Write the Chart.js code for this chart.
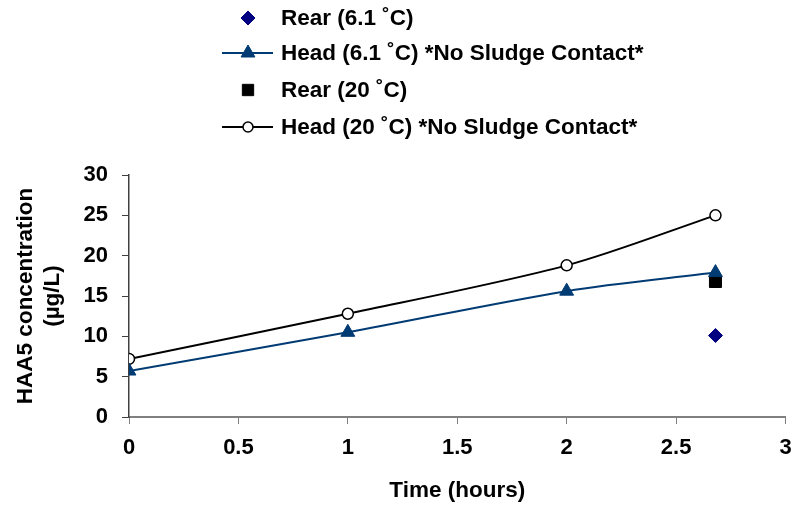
<!DOCTYPE html>
<html>
<head>
<meta charset="utf-8">
<script src="https://cdn.jsdelivr.net/npm/chart.js@4/dist/chart.umd.min.js"></script>
<style>
html,body{margin:0;padding:0;background:#fff;}
#wrap{position:relative;width:795px;height:508px;}
</style>
</head>
<body>
<div id="wrap"><canvas id="c" width="795" height="508"></canvas></div>
<script>
// ---- data ----
const seriesNames = [
  'Rear (6.1 \u02DAC)',
  'Head (6.1 \u02DAC) *No Sludge Contact*',
  'Rear (20 \u02DAC)',
  'Head (20 \u02DAC) *No Sludge Contact*'
];
const headTime = [0, 1, 2, 2.68];
const rearTime = [2.68];
const rear61 = [10.1];
const head61 = [5.7, 10.5, 15.6, 17.9];
const rear20 = [16.8];
const head20 = [7.2, 12.8, 18.8, 25.0];
const xTicks = [0, 0.5, 1, 1.5, 2, 2.5, 3];
const yTicks = [0, 5, 10, 15, 20, 25, 30];

const pts = (xs, ys) => xs.map((x, i) => ({x: x, y: ys[i]}));

const datasets = [
  {
    label: seriesNames[0],
    data: pts(rearTime, rear61),
    showLine: false,
    pointStyle: 'rectRot',
    pointRadius: 7,
    legendRadius: 7,
    pointBackgroundColor: '#000080',
    pointBorderColor: '#000080',
    pointBorderWidth: 1,
    borderColor: '#000080',
    borderWidth: 1.5
  },
  {
    label: seriesNames[1],
    data: pts(headTime, head61),
    showLine: true,
    tension: 0.3,
    pointStyle: 'triangle',
    pointRadius: 8,
    legendRadius: 8,
    pointBackgroundColor: '#003B73',
    pointBorderColor: '#003B73',
    pointBorderWidth: 1,
    borderColor: '#003B73',
    borderWidth: 2
  },
  {
    label: seriesNames[2],
    data: pts(rearTime, rear20),
    showLine: false,
    pointStyle: 'rect',
    pointRadius: 8.5,
    legendRadius: 8,
    pointBackgroundColor: '#000000',
    pointBorderColor: '#000000',
    pointBorderWidth: 1,
    borderColor: '#000000',
    borderWidth: 1.5
  },
  {
    label: seriesNames[3],
    data: pts(headTime, head20),
    showLine: true,
    tension: 0.3,
    pointStyle: 'circle',
    pointRadius: 5.5,
    legendRadius: 5,
    pointBackgroundColor: '#ffffff',
    pointBorderColor: '#000000',
    pointBorderWidth: 1.5,
    borderColor: '#000000',
    borderWidth: 2
  }
];

const legendDraw = {
  id: 'legendDraw',
  afterDraw(chart) {
    const ctx = chart.ctx;
    const rows = [18, 53, 90, 127];
    ctx.save();
    chart.data.datasets.forEach((ds, i) => {
      const y = rows[i];
      if (ds.showLine) {
        ctx.strokeStyle = ds.borderColor;
        ctx.lineWidth = ds.borderWidth;
        ctx.beginPath();
        ctx.moveTo(222, y);
        ctx.lineTo(273, y);
        ctx.stroke();
      }
      ctx.fillStyle = ds.pointBackgroundColor;
      ctx.strokeStyle = ds.pointBorderColor;
      ctx.lineWidth = ds.pointBorderWidth;
      Chart.helpers.drawPoint(ctx, {
        pointStyle: ds.pointStyle,
        rotation: 0,
        radius: ds.legendRadius,
        borderWidth: ds.pointBorderWidth
      }, 248, y);
      ctx.fillStyle = '#000';
      ctx.font = 'bold 22.5px "Liberation Sans", Arial, sans-serif';
      ctx.textBaseline = 'middle';
      ctx.textAlign = 'left';
      ctx.fillText(ds.label, 281, y + 1);
    });
    ctx.restore();
  }
};

new Chart(document.getElementById('c'), {
  type: 'scatter',
  data: { datasets: datasets },
  options: {
    responsive: false,
    animation: false,
    layout: { padding: { top: 175, right: 0, left: 0, bottom: 0 } },
    plugins: {
      legend: { display: false },
      tooltip: { enabled: false }
    },
    scales: {
      x: {
        type: 'linear',
        min: 0, max: 3,
        afterBuildTicks(scale) { scale.ticks = xTicks.map(v => ({value: v})); },
        afterFit(scale) { scale.height = 508 - 417; scale.paddingRight = 7; scale.paddingLeft = 0; },
        border: { display: true, color: '#808080', width: 2 },
        grid: { display: true, drawOnChartArea: false, drawTicks: true, tickLength: 7, color: '#808080', lineWidth: 1 },
        ticks: {
          color: '#000',
          font: { family: '"Liberation Sans", Arial', size: 22, weight: 'bold' },
          padding: 11,
          maxRotation: 0,
          autoSkip: false,
          callback: v => String(v)
        },
        title: {
          display: true,
          text: 'Time (hours)',
          color: '#000',
          font: { family: '"Liberation Sans", Arial', size: 22.5, weight: 'bold' },
          padding: { top: 4, bottom: 4 }
        }
      },
      y: {
        type: 'linear',
        min: 0, max: 30,
        afterBuildTicks(scale) { scale.ticks = yTicks.map(v => ({value: v})); },
        afterFit(scale) { scale.width = 129; scale.paddingTop = 0; scale.paddingBottom = 0; },
        border: { display: true, color: '#404040', width: 1.5 },
        grid: { display: true, drawOnChartArea: false, drawTicks: true, tickLength: 7, color: '#404040', lineWidth: 1 },
        ticks: {
          color: '#000',
          font: { family: '"Liberation Sans", Arial', size: 22, weight: 'bold' },
          padding: 14,
          callback: v => String(v)
        },
        title: {
          display: true,
          text: ['HAA5 concentration', '(\u00B5g/L)'],
          color: '#000',
          font: { family: '"Liberation Sans", Arial', size: 22.5, weight: 'bold', lineHeight: 1.2 },
          padding: { top: 12, bottom: 4 }
        }
      }
    }
  },
  plugins: [legendDraw]
});
</script>
</body>
</html>
